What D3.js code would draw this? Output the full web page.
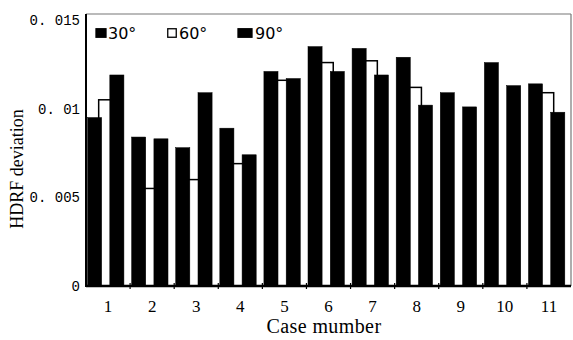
<!DOCTYPE html>
<html>
<head>
<meta charset="utf-8">
<script src="https://cdn.jsdelivr.net/npm/d3@7"></script>
<style>
  body { margin: 0; background: #fff; }
</style>
</head>
<body>
<div id="chart"></div>
<script>
const cases = ['1', '2', '3', '4', '5', '6', '7', '8', '9', '10', '11'];
const series = ['30°', '60°', '90°'];
const dev30 = [0.0095, 0.0084, 0.0078, 0.0089, 0.0121, 0.0135, 0.0134, 0.0129, 0.0109, 0.0126, 0.0114];
const dev60 = [0.0105, 0.0055, 0.0060, 0.0069, 0.0116, 0.0126, 0.0127, 0.0112, null, null, 0.0109];
const dev90 = [0.0119, 0.0083, 0.0109, 0.0074, 0.0117, 0.0121, 0.0119, 0.0102, 0.0101, 0.0113, 0.0098];
const yTicks = [0, 0.005, 0.01, 0.015];
const yTickLabels = ['0', '0. 005', '0. 01', '0. 015'];

const width = 573, height = 340;
const plotLeft = 86, plotRight = 571, plotTop = 14, plotBottom = 286;

const svg = d3.select('#chart').append('svg')
  .attr('width', width)
  .attr('height', height)
  .style('background', '#fff');

const x = d3.scaleBand().domain(cases).range([plotLeft, plotRight]).padding(0);
const bw = x.bandwidth();
const xs = d3.scalePoint().domain(series).range([bw * 0.035, bw * 0.54]);
const barW = bw * 0.32;

const y = d3.scaleLinear().domain([0, 0.015]).range([plotBottom, 20]);

// build rows per series
const rows = [dev30, dev60, dev90].map(function(vals, i) {
  return cases.map(function(c, j) { return { c: c, s: series[i], v: vals[j] }; })
    .filter(function(d) { return d.v !== null; });
});

// 60 degree bars go behind the black ones
const order = [1, 0, 2];
order.forEach(function(i) {
  svg.append('g').selectAll('rect')
    .data(rows[i])
    .enter().append('rect')
    .attr('x', function(d) { return x(d.c) + xs(d.s); })
    .attr('y', function(d) { return y(d.v); })
    .attr('width', barW)
    .attr('height', function(d) { return plotBottom - y(d.v); })
    .attr('fill', i === 1 ? '#fff' : '#000')
    .attr('stroke', '#000')
    .attr('stroke-width', i === 1 ? 1.5 : 0.5);
});

// frame
svg.append('line').attr('x1', plotLeft).attr('x2', plotRight).attr('y1', plotTop).attr('y2', plotTop)
  .attr('stroke', '#777').attr('stroke-width', 1.2);
svg.append('line').attr('x1', plotRight).attr('x2', plotRight).attr('y1', plotTop).attr('y2', plotBottom)
  .attr('stroke', '#777').attr('stroke-width', 1.2);
svg.append('line').attr('x1', plotLeft).attr('x2', plotLeft).attr('y1', plotTop).attr('y2', plotBottom + 1)
  .attr('stroke', '#000').attr('stroke-width', 2);
svg.append('line').attr('x1', plotLeft).attr('x2', plotRight).attr('y1', plotBottom).attr('y2', plotBottom)
  .attr('stroke', '#000').attr('stroke-width', 2.5);

// ticks between cases
svg.append('g').selectAll('line')
  .data(cases.slice(1))
  .enter().append('line')
  .attr('x1', function(d) { return x(d); })
  .attr('x2', function(d) { return x(d); })
  .attr('y1', plotBottom - 3)
  .attr('y2', plotBottom + 3)
  .attr('stroke', '#000')
  .attr('stroke-width', 1.2);

// x axis labels
const xAxis = d3.axisBottom(x).tickSize(0).tickPadding(14);
const gx = svg.append('g')
  .attr('transform', 'translate(0,' + plotBottom + ')')
  .call(xAxis);
gx.select('.domain').remove();
gx.selectAll('text')
  .style('font-family', "'Liberation Serif', serif")
  .style('font-size', '17px')
  .attr('fill', '#000');

// y axis labels
const yAxis = d3.axisLeft(y).tickValues(yTicks).tickSize(0).tickPadding(6)
  .tickFormat(function(d, i) { return yTickLabels[i]; });
const gy = svg.append('g')
  .attr('transform', 'translate(' + plotLeft + ',0)')
  .call(yAxis);
gy.select('.domain').remove();
gy.selectAll('text')
  .style('font-family', "'Liberation Mono', monospace")
  .style('font-size', '14px')
  .attr('fill', '#000');

// axis titles
svg.append('text')
  .attr('x', 324)
  .attr('y', 333)
  .attr('text-anchor', 'middle')
  .style('font-family', "'Liberation Serif', serif")
  .style('font-size', '20px')
  .style('letter-spacing', '0.4px')
  .text('Case mumber');

svg.append('text')
  .attr('transform', 'translate(23,169) rotate(-90)')
  .attr('text-anchor', 'middle')
  .style('font-family', "'Liberation Serif', serif")
  .style('font-size', '18px')
  .text('HDRF deviation');

// legend
const legendX = [96, 167, 238];
const legend = svg.append('g').selectAll('g')
  .data(series)
  .enter().append('g')
  .attr('transform', function(d, i) { return 'translate(' + legendX[i] + ',28)'; });
legend.append('rect')
  .attr('x', function(d, i) { return i === 1 ? 0.75 : 0; })
  .attr('y', 0.75)
  .attr('width', function(d, i) { return i === 2 ? 14 : (i === 1 ? 8.5 : 10); })
  .attr('height', 8.5)
  .attr('fill', function(d, i) { return i === 1 ? '#fff' : '#000'; })
  .attr('stroke', '#000')
  .attr('stroke-width', 1.3);
legend.append('text')
  .attr('x', function(d, i) { return i === 2 ? 17 : 12; })
  .attr('y', 10.5)
  .style('font-family', "'DejaVu Sans', sans-serif")
  .style('font-size', '16px')
  .text(function(d) { return d; });
</script>
</body>
</html>
